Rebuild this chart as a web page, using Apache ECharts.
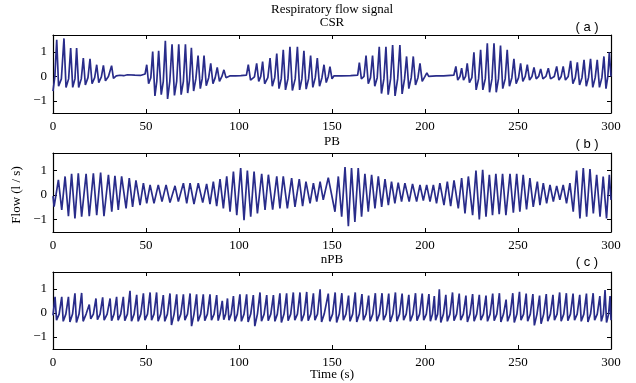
<!DOCTYPE html>
<html><head><meta charset="utf-8">
<script src="https://cdn.jsdelivr.net/npm/echarts@6/dist/echarts.min.js"></script>
<style>html,body{margin:0;padding:0;background:#fff}#c{width:636px;height:383px}</style>
</head><body><div id="c"></div>
<script>
const timeTicks = [0, 50, 100, 150, 200, 250, 300];
const flowTicks = [-1, 0, 1];
const panelTitles = ['CSR', 'PB', 'nPB'];
const panelTags = ['( a )', '( b )', '( c )'];
const mainTitle = 'Respiratory flow signal';
const yName = 'Flow (l / s)';
const xName = 'Time (s)';

// [time (s), flow (l/s)] vertices
const csrSignal = [[0,-0.6],[1.0,0.0],[2.0,1.5],[3.0,-0.4],[4.5,-0.1],[5.9,1.56],[7.0,-0.45],[8.4,-0.1],[9.5,1.16],[10.6,-0.45],[11.8,-0.1],[12.7,1.16],[13.8,-0.45],[15.2,-0.1],[16.3,0.75],[17.4,-0.35],[18.8,-0.05],[19.9,0.72],[21.0,-0.3],[22.4,-0.05],[23.5,0.48],[24.6,-0.25],[26,-0.02],[27.1,0.45],[28.2,-0.18],[29.8,0.0],[31.5,0.44],[32.5,-0.08],[34,0.02],[36,0.05],[38,0.03],[40,0.07],[41,0.02],[44,0.05],[47,0.04],[49.5,0.1],[50.4,0.48],[51.4,-0.3],[52.6,-0.05],[53.6,1.02],[54.8,-0.8],[55.8,-0.2],[56.8,1.05],[58.2,-0.75],[59.3,-0.2],[60.4,1.46],[61.6,-0.92],[62.8,-0.2],[64.0,1.32],[65.3,-0.78],[66.5,-0.2],[67.6,1.32],[68.9,-0.75],[70.1,-0.2],[71.2,1.32],[72.4,-0.68],[73.4,-0.15],[74.4,1.18],[75.6,-0.6],[76.8,-0.1],[78.0,0.86],[79.2,-0.5],[80.2,-0.1],[81.2,0.86],[82.4,-0.38],[83.7,-0.05],[84.8,0.54],[86.0,-0.3],[87.2,-0.05],[88.3,0.37],[89.5,-0.2],[90.8,0.0],[91.9,0.27],[93,-0.05],[95,0.02],[98,0.02],[101,0.03],[104,0.05],[105,0.48],[106.2,-0.15],[108.3,-0.02],[109.5,0.54],[110.6,-0.2],[111.7,0.0],[112.7,0.61],[113.8,-0.3],[115.5,-0.05],[116.7,0.75],[117.9,-0.4],[119.2,-0.05],[120.3,0.94],[121.5,-0.5],[122.7,-0.1],[123.8,1.09],[125.0,-0.55],[126.3,-0.1],[127.4,1.22],[128.7,-0.58],[130.2,-0.1],[131.4,1.22],[132.6,-0.55],[133.8,-0.1],[134.9,1.05],[136.1,-0.52],[137.4,-0.1],[138.5,0.86],[139.7,-0.45],[141,-0.05],[142.1,0.75],[143.3,-0.4],[144.6,-0.05],[145.7,0.48],[146.9,-0.25],[148,0.0],[148.9,0.4],[150,-0.1],[151,0.02],[155,0.02],[160,0.03],[163.8,0.05],[164.7,0.57],[165.8,-0.1],[167.2,0.0],[168.3,0.86],[169.5,-0.3],[170.7,-0.05],[171.8,0.86],[173,-0.4],[174.3,-0.05],[175.4,1.22],[176.6,-0.7],[177.9,-0.1],[179,1.22],[180.2,-0.75],[181.5,-0.1],[182.6,1.29],[183.9,-0.8],[185.3,-0.1],[186.5,1.29],[187.7,-0.72],[189,-0.1],[190.1,0.82],[191.3,-0.5],[192.6,-0.05],[193.7,0.82],[194.9,-0.35],[196.2,-0.05],[197.3,0.54],[198.5,-0.2],[200,0.0],[201,0.15],[202,0.0],[206,0.02],[210,0.02],[215.5,0.05],[216.6,0.41],[217.6,-0.15],[218.8,0.0],[219.7,0.34],[220.7,-0.15],[221.8,0.0],[222.7,0.54],[223.9,-0.25],[225.2,-0.05],[226.3,0.99],[227.5,-0.55],[228.8,-0.1],[229.9,1.09],[231.1,-0.55],[232.4,-0.1],[233.5,1.36],[234.7,-0.65],[236,-0.1],[237.1,1.36],[238.3,-0.65],[239.5,-0.1],[240.6,1.27],[241.8,-0.5],[243.1,-0.1],[244.2,1.09],[245.4,-0.4],[246.7,-0.05],[247.8,0.72],[249,-0.3],[250.3,-0.05],[251.4,0.54],[252.6,-0.2],[253.9,0.0],[255,0.48],[256.2,-0.15],[257.5,0.0],[258.6,0.37],[259.8,-0.1],[261.1,0.0],[262.2,0.31],[263.4,-0.1],[265,0.0],[266.3,0.34],[267.5,-0.1],[269.5,0.0],[270.8,0.41],[272,-0.15],[273.2,0.0],[274.3,0.41],[275.5,-0.15],[277,0.0],[278.3,0.64],[279.5,-0.3],[280.8,-0.05],[281.9,0.58],[283.1,-0.35],[284.4,-0.05],[285.5,0.68],[286.7,-0.4],[287.9,-0.05],[289,0.72],[290.2,-0.45],[291.5,-0.05],[292.6,0.68],[293.8,-0.45],[295.1,-0.05],[296.2,0.82],[297.3,-0.5],[298.3,0.0],[299.1,0.99],[300,0.0]];

const pbSignal = [[0,-0.05],[0.6,-0.47],[2.9,0.61],[4.7,-0.61],[6.5,0.75],[8.3,-0.86],[10.0,0.86],[11.8,-0.95],[13.6,0.88],[15.4,-0.88],[17.8,0.86],[19.5,-0.86],[21.7,0.88],[23.5,-0.82],[25.6,0.91],[27.4,-0.86],[29.8,0.82],[31.6,-0.68],[33.3,0.78],[35.1,-0.61],[36.9,0.75],[39.3,-0.54],[41.0,0.68],[42.8,-0.48],[44.6,0.59],[46.8,-0.41],[48.6,0.48],[50.4,-0.34],[52.2,0.41],[54.3,-0.34],[56.6,0.41],[58.6,-0.27],[60.8,0.41],[62.9,-0.31],[65.6,0.37],[67.4,-0.27],[70.1,0.48],[71.9,-0.34],[73.7,0.48],[75.8,-0.37],[78.1,0.48],[80.5,-0.31],[82.6,0.45],[84.4,-0.37],[86.2,0.54],[88.0,-0.45],[89.8,0.64],[91.6,-0.54],[93.4,0.75],[95.2,-0.68],[97.0,0.95],[98.8,-0.82],[100.9,1.09],[102.7,-1.02],[104.5,0.99],[106.3,-0.88],[108.1,0.95],[109.9,-0.75],[112.2,0.86],[114.0,-0.61],[115.8,0.82],[118.1,-0.59],[120.3,0.75],[122.0,-0.54],[123.8,0.75],[126.0,-0.54],[128.3,0.68],[130.1,-0.48],[132.4,0.64],[134.2,-0.45],[136.0,0.54],[138.2,-0.34],[140.0,0.48],[141.8,-0.27],[143.6,0.54],[145.3,-0.2],[148.0,0.7],[151.6,-0.68],[153.4,0.75],[155.2,-0.88],[157.0,1.13],[158.8,-1.27],[160.5,1.09],[162.3,-1.09],[164.1,1.09],[165.9,-0.88],[167.7,0.86],[169.5,-0.68],[171.3,0.82],[173.1,-0.54],[174.9,0.75],[176.7,-0.48],[178.5,0.64],[180.3,-0.41],[182.0,0.54],[183.8,-0.34],[185.6,0.50],[187.4,-0.27],[189.2,0.48],[191.5,-0.27],[193.3,0.45],[195.5,-0.27],[197.3,0.41],[199.1,-0.23],[200.9,0.41],[202.7,-0.27],[204.5,0.41],[206.2,-0.34],[208.0,0.48],[210.2,-0.41],[212.0,0.54],[213.8,-0.45],[215.6,0.59],[217.9,-0.54],[219.7,0.68],[221.5,-0.75],[223.3,0.75],[225.6,-0.82],[227.4,0.99],[229.2,-0.99],[231.0,1.02],[232.8,-0.88],[234.6,0.82],[236.3,-0.82],[238.1,0.86],[239.9,-0.78],[241.7,0.86],[243.5,-0.82],[245.7,0.86],[247.5,-0.72],[249.3,0.86],[251.0,-0.68],[252.8,0.82],[254.6,-0.59],[256.4,0.68],[258.2,-0.48],[260.4,0.54],[261.8,-0.41],[263.6,0.48],[265.4,-0.34],[267.2,0.41],[269.0,-0.27],[270.8,0.37],[272.5,-0.2],[274.3,0.41],[276.1,-0.34],[277.9,0.48],[279.7,-0.68],[281.5,0.99],[283.3,-0.95],[285.1,1.09],[286.9,-0.88],[288.7,1.05],[290.5,-0.75],[292.3,0.82],[294.1,-0.88],[295.8,0.75],[297.6,-0.95],[299.1,0.82],[300,-0.2]];

const npbSignal = [[0,-0.1],[1.1,0.67],[1.9,-0.30],[3.3,-0.05],[4.7,0.67],[5.5,-0.35],[6.9,-0.05],[8.3,0.67],[9.1,-0.38],[10.5,-0.05],[11.8,0.81],[12.6,-0.40],[14.0,-0.05],[15.4,0.83],[16.2,-0.35],[17.8,-0.05],[19.5,0.35],[20.3,-0.25],[21.7,-0.05],[23.1,0.60],[23.9,-0.28],[25.3,-0.05],[26.7,0.65],[27.5,-0.30],[29.1,-0.05],[30.7,0.60],[31.5,-0.32],[32.8,-0.05],[34.2,0.67],[35.0,-0.30],[36.4,-0.05],[37.8,0.67],[38.6,-0.32],[40.0,-0.05],[41.4,0.92],[42.2,-0.35],[43.6,-0.05],[45.0,0.75],[45.8,-0.35],[47.2,-0.05],[48.6,0.81],[49.4,-0.30],[50.8,-0.05],[52.2,0.85],[53.0,-0.30],[54.3,-0.05],[55.7,0.85],[56.5,-0.35],[57.9,-0.05],[59.3,0.74],[60.1,-0.35],[61.5,-0.05],[62.9,0.81],[63.7,-0.50],[65.1,-0.05],[66.5,0.77],[67.3,-0.35],[68.7,-0.05],[70.1,0.77],[70.9,-0.30],[72.3,-0.05],[73.7,0.81],[74.5,-0.55],[75.8,-0.05],[77.2,0.77],[78.0,-0.35],[79.4,-0.05],[80.8,0.77],[81.6,-0.32],[83.0,-0.05],[84.4,0.77],[85.2,-0.30],[86.6,-0.05],[88.0,0.74],[88.8,-0.32],[89.8,-0.05],[91.0,0.50],[91.8,-0.28],[92.8,-0.05],[93.8,0.60],[94.6,-0.30],[95.8,-0.05],[97.0,0.70],[97.8,-0.35],[99.1,-0.05],[100.5,0.77],[101.3,-0.35],[102.7,-0.05],[104.1,0.77],[104.9,-0.38],[106.3,-0.05],[107.7,0.74],[108.5,-0.55],[109.9,-0.05],[111.3,0.85],[112.1,-0.35],[113.5,-0.05],[114.9,0.74],[115.7,-0.32],[117.1,-0.05],[118.5,0.74],[119.3,-0.35],[120.6,-0.05],[122.0,0.81],[122.8,-0.40],[124.2,-0.05],[125.6,0.81],[126.4,-0.32],[127.8,-0.05],[129.2,0.85],[130.0,-0.30],[131.4,-0.05],[132.8,0.85],[133.6,-0.35],[135.0,-0.05],[136.4,0.87],[137.2,-0.32],[138.6,-0.05],[140.0,0.81],[140.8,-0.30],[142.2,-0.05],[143.6,0.98],[144.4,-0.38],[145.8,-0.05],[148.0,0.80],[148.8,-0.35],[150.3,-0.05],[151.7,0.85],[152.5,-0.40],[153.9,-0.05],[155.3,0.82],[156.1,-0.30],[157.5,-0.05],[158.9,0.72],[159.7,-0.35],[161.1,-0.05],[162.5,0.85],[163.3,-0.38],[164.7,-0.05],[166.1,0.78],[166.9,-0.30],[168.3,-0.05],[169.7,0.72],[170.5,-0.35],[171.9,-0.05],[173.3,0.82],[174.1,-0.35],[175.5,-0.05],[176.9,0.82],[177.7,-0.30],[179.1,-0.05],[180.5,0.80],[181.3,-0.38],[182.7,-0.05],[184.1,0.85],[184.9,-0.35],[186.3,-0.05],[187.7,0.80],[188.5,-0.30],[189.9,-0.05],[191.3,0.75],[192.1,-0.35],[193.5,-0.05],[194.9,0.82],[195.7,-0.32],[197.1,-0.05],[198.5,0.80],[199.3,-0.30],[200.7,-0.05],[202.1,0.78],[202.9,-0.35],[204.0,-0.05],[205.0,0.70],[205.7,-0.30],[206.8,-0.05],[207.7,0.98],[208.5,-0.40],[209.9,-0.05],[211.2,0.75],[212.0,-0.35],[213.4,-0.05],[214.8,0.85],[215.6,-0.32],[217.0,-0.05],[218.4,0.80],[219.2,-0.30],[220.6,-0.05],[222.0,0.72],[222.8,-0.38],[224.2,-0.05],[225.6,0.78],[226.4,-0.35],[227.8,-0.05],[229.2,0.75],[230.0,-0.30],[231.4,-0.05],[232.8,0.72],[233.6,-0.35],[235.0,-0.05],[236.4,0.80],[237.2,-0.32],[238.6,-0.05],[240.0,0.82],[240.8,-0.38],[242.2,-0.05],[243.6,0.55],[244.4,-0.35],[245.8,-0.05],[247.2,0.82],[248.0,-0.40],[249.4,-0.05],[250.8,0.88],[251.6,-0.30],[253.0,-0.05],[254.4,0.80],[255.2,-0.35],[256.6,-0.05],[258.0,0.78],[258.8,-0.52],[260.2,-0.05],[261.6,0.72],[262.4,-0.45],[263.8,-0.05],[265.2,0.78],[266.0,-0.35],[267.4,-0.05],[268.8,0.75],[269.6,-0.30],[271.0,-0.05],[272.4,0.85],[273.2,-0.35],[274.6,-0.05],[276.0,0.82],[276.8,-0.32],[278.2,-0.05],[279.6,0.80],[280.4,-0.30],[281.8,-0.05],[283.2,0.75],[284.0,-0.35],[285.4,-0.05],[286.8,0.80],[287.6,-0.38],[289.0,-0.05],[290.4,0.82],[291.2,-0.30],[292.6,-0.05],[294.0,0.70],[294.8,-0.35],[295.9,-0.05],[296.8,0.95],[297.6,-0.40],[298.7,-0.05],[299.5,0.70],[300,-0.30]];

const signals = [csrSignal, pbSignal, npbSignal];

const FONT = '"Liberation Serif", "DejaVu Serif", serif';
const SANS = '"Liberation Sans", Arial, sans-serif';
const LINE = '#292c8a';
const grids = [{top: 35, height: 78}, {top: 153, height: 79}, {top: 272, height: 77}];
const minusFmt = v => String(v).replace('-', '\u2212');

const option = {
  animation: false,
  backgroundColor: '#fff',
  grid: grids.map(g => ({left: 53, right: 25, top: g.top, height: g.height, containLabel: false})),
  xAxis: [], yAxis: [], series: [],
  graphic: []
};
const axLine = {show: true, onZero: false, lineStyle: {color: '#000', width: 1.2}};
for (let i = 0; i < 3; i++) {
  ['bottom', 'top'].forEach(pos => {
    option.xAxis.push({
      type: 'value', gridIndex: i, position: pos, min: 0, max: 300, interval: 50,
      axisLine: axLine,
      axisTick: {show: true, inside: true, length: 4, lineStyle: {color: '#000'}, customValues: timeTicks},
      axisLabel: {show: pos === 'bottom', customValues: timeTicks, color: '#000', fontFamily: FONT, fontSize: 13, margin: 7},
      splitLine: {show: false}
    });
  });
  ['left', 'right'].forEach(pos => {
    option.yAxis.push({
      type: 'value', gridIndex: i, position: pos, min: -1.5, max: 1.7,
      axisLine: axLine,
      axisTick: {show: true, inside: true, length: 4, lineStyle: {color: '#000'}, customValues: flowTicks},
      axisLabel: {show: pos === 'left', customValues: flowTicks, formatter: minusFmt, color: '#000', fontFamily: FONT, fontSize: 13, margin: 6},
      splitLine: {show: false}
    });
  });
  option.series.push({
    type: 'line', xAxisIndex: i * 2, yAxisIndex: i * 2, data: signals[i],
    showSymbol: false, symbol: 'none', lineStyle: {color: LINE, width: 1.7}, clip: true
  });
}
const txt = (text, x, y, font, extra) => Object.assign({
  type: 'text', x: x, y: y, silent: true,
  style: {text: text, fill: '#000', font: font, textAlign: 'center', textVerticalAlign: 'middle'}
}, extra || {});
option.graphic.push(txt(mainTitle, 332, 10, '13px ' + FONT));
const titleY = [23, 142, 260];
const tagY = [27, 144, 262];
for (let i = 0; i < 3; i++) {
  option.graphic.push(txt(panelTitles[i], 332, titleY[i], '13px ' + FONT));
  option.graphic.push(txt(panelTags[i], 587, tagY[i], '13px ' + SANS));
}
option.graphic.push(txt(xName, 332, 375, '13px ' + FONT));
option.graphic.push(txt(yName, 17, 195, '13px ' + FONT, {rotation: Math.PI / 2}));

const chart = echarts.init(document.getElementById('c'), null, {renderer: 'canvas'});
chart.setOption(option);
</script></body></html>
